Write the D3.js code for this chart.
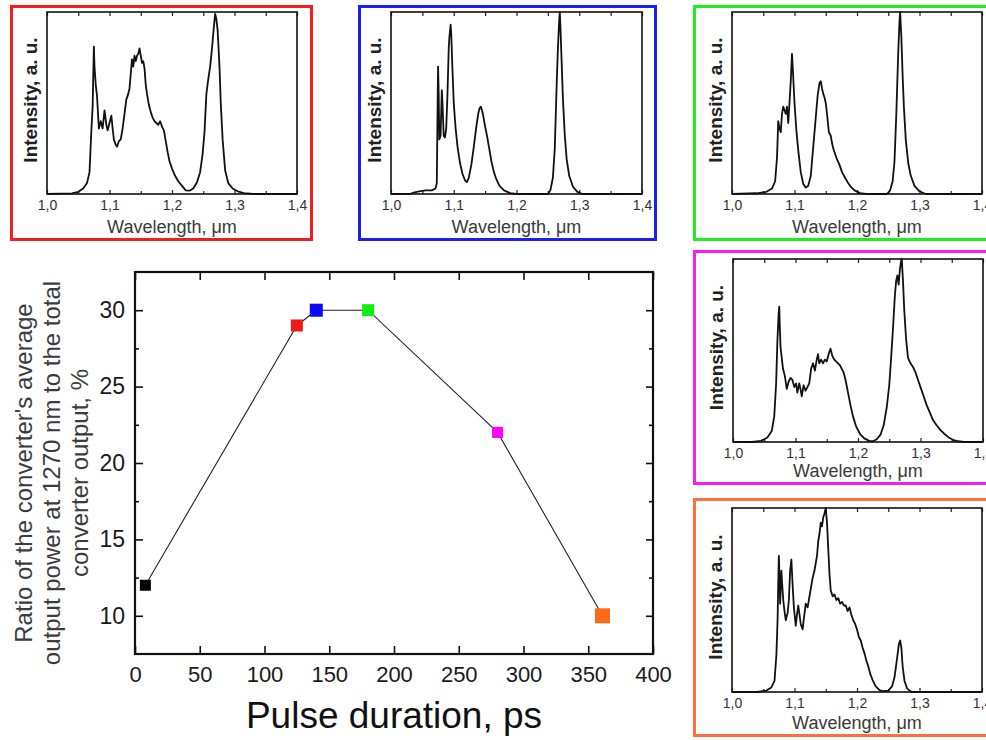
<!DOCTYPE html>
<html>
<head>
<meta charset="utf-8">
<script src="https://cdn.jsdelivr.net/npm/d3@7"></script>
<style>
  html, body { margin: 0; padding: 0; background: #fff; }
  svg { display: block; font-family: "Liberation Sans", Arial, sans-serif; }
</style>
</head>
<body>
<svg id="chart" width="986" height="740"></svg>
<script>
// main chart data
const pulseDuration = [8, 125, 140, 180, 280, 361];
const ratio = [12, 29, 30, 30, 22, 10];
const pulseTicks = [0, 50, 100, 150, 200, 250, 300, 350, 400];
const ratioTicks = [10, 15, 20, 25, 30];
const ratioMinor = [12.5, 17.5, 22.5, 27.5];
const yTitleLines = ["Ratio of the converter's average", "output power at 1270 nm to the total", "converter output, %"];

// spectra (wavelength um, normalised intensity)
const waveTicks = [1.0, 1.1, 1.2, 1.3, 1.4];
const waveMinor = [1.05, 1.15, 1.25, 1.35];

const spectrumRed = [[1.000,0],[1.040,0.003],[1.050,0.012],[1.058,0.03],[1.064,0.06],[1.068,0.12],[1.071,0.35],[1.073,0.48],[1.075,0.81],[1.076,0.70],[1.078,0.60],[1.080,0.54],[1.083,0.36],[1.086,0.40],[1.089,0.36],[1.092,0.46],[1.095,0.38],[1.097,0.35],[1.100,0.39],[1.103,0.43],[1.105,0.36],[1.107,0.30],[1.110,0.27],[1.112,0.26],[1.115,0.29],[1.118,0.30],[1.121,0.36],[1.124,0.44],[1.127,0.52],[1.130,0.55],[1.132,0.58],[1.134,0.66],[1.136,0.74],[1.138,0.70],[1.140,0.76],[1.142,0.73],[1.144,0.76],[1.146,0.77],[1.148,0.80],[1.150,0.76],[1.152,0.72],[1.154,0.73],[1.156,0.69],[1.158,0.60],[1.160,0.55],[1.163,0.49],[1.166,0.45],[1.169,0.42],[1.172,0.40],[1.175,0.39],[1.178,0.38],[1.181,0.40],[1.184,0.37],[1.187,0.35],[1.190,0.29],[1.193,0.23],[1.196,0.18],[1.200,0.14],[1.205,0.10],[1.210,0.07],[1.216,0.045],[1.222,0.02],[1.228,0.018],[1.234,0.03],[1.240,0.065],[1.245,0.12],[1.249,0.22],[1.252,0.34],[1.255,0.55],[1.258,0.63],[1.261,0.70],[1.264,0.80],[1.267,0.92],[1.269,0.99],[1.271,0.96],[1.273,0.90],[1.276,0.70],[1.278,0.50],[1.281,0.30],[1.285,0.13],[1.290,0.06],[1.297,0.03],[1.305,0.015],[1.315,0.005],[1.330,0],[1.400,0]];

const spectrumBlue = [[1.000,0],[1.030,0],[1.036,0.008],[1.045,0.015],[1.055,0.02],[1.065,0.02],[1.071,0.03],[1.073,0.06],[1.074,0.40],[1.075,0.70],[1.076,0.55],[1.077,0.30],[1.079,0.32],[1.081,0.57],[1.082,0.50],[1.084,0.32],[1.086,0.31],[1.088,0.36],[1.090,0.55],[1.092,0.80],[1.093,0.86],[1.095,0.93],[1.096,0.88],[1.098,0.68],[1.100,0.50],[1.103,0.36],[1.106,0.26],[1.110,0.17],[1.114,0.11],[1.118,0.075],[1.121,0.065],[1.124,0.09],[1.128,0.16],[1.132,0.26],[1.136,0.37],[1.139,0.44],[1.141,0.47],[1.143,0.48],[1.145,0.46],[1.147,0.43],[1.150,0.37],[1.153,0.32],[1.156,0.26],[1.160,0.18],[1.164,0.12],[1.168,0.08],[1.173,0.045],[1.180,0.02],[1.190,0.005],[1.200,0],[1.250,0],[1.254,0.02],[1.258,0.09],[1.261,0.25],[1.264,0.60],[1.266,0.80],[1.268,0.95],[1.269,1.0],[1.270,0.92],[1.272,0.72],[1.274,0.52],[1.277,0.32],[1.280,0.19],[1.284,0.10],[1.290,0.04],[1.297,0.012],[1.305,0],[1.400,0]];

const spectrumGreen = [[1.000,0],[1.040,0.004],[1.055,0.012],[1.064,0.03],[1.069,0.07],[1.072,0.20],[1.074,0.40],[1.076,0.36],[1.078,0.34],[1.080,0.44],[1.082,0.48],[1.084,0.46],[1.086,0.44],[1.088,0.48],[1.090,0.39],[1.092,0.50],[1.094,0.62],[1.096,0.77],[1.098,0.64],[1.100,0.50],[1.103,0.35],[1.106,0.24],[1.110,0.12],[1.114,0.055],[1.118,0.035],[1.122,0.045],[1.126,0.10],[1.130,0.26],[1.134,0.42],[1.137,0.54],[1.140,0.61],[1.142,0.62],[1.144,0.58],[1.146,0.55],[1.148,0.53],[1.150,0.50],[1.152,0.44],[1.155,0.34],[1.158,0.32],[1.160,0.28],[1.162,0.25],[1.165,0.22],[1.168,0.19],[1.172,0.16],[1.176,0.12],[1.180,0.095],[1.185,0.065],[1.190,0.04],[1.196,0.02],[1.205,0.005],[1.215,0],[1.248,0],[1.253,0.02],[1.257,0.07],[1.260,0.18],[1.263,0.45],[1.266,0.78],[1.268,0.95],[1.269,1.0],[1.271,0.86],[1.273,0.65],[1.275,0.48],[1.278,0.30],[1.282,0.17],[1.286,0.10],[1.292,0.045],[1.300,0.015],[1.310,0],[1.400,0]];

const spectrumMagenta = [[1.000,0],[1.030,0],[1.045,0.006],[1.055,0.025],[1.062,0.06],[1.066,0.14],[1.069,0.32],[1.071,0.55],[1.073,0.70],[1.074,0.74],[1.075,0.62],[1.076,0.52],[1.078,0.46],[1.080,0.40],[1.083,0.36],[1.086,0.29],[1.089,0.33],[1.092,0.35],[1.095,0.34],[1.098,0.30],[1.101,0.32],[1.103,0.27],[1.106,0.32],[1.108,0.29],[1.110,0.25],[1.113,0.31],[1.116,0.28],[1.119,0.30],[1.122,0.32],[1.125,0.40],[1.128,0.43],[1.131,0.39],[1.134,0.45],[1.136,0.48],[1.138,0.43],[1.141,0.45],[1.144,0.43],[1.147,0.45],[1.150,0.44],[1.153,0.48],[1.156,0.51],[1.159,0.47],[1.162,0.45],[1.165,0.44],[1.168,0.43],[1.171,0.42],[1.174,0.40],[1.177,0.38],[1.180,0.34],[1.184,0.27],[1.188,0.20],[1.192,0.14],[1.197,0.085],[1.203,0.045],[1.210,0.02],[1.218,0.006],[1.224,0.004],[1.230,0.015],[1.236,0.04],[1.241,0.09],[1.246,0.19],[1.250,0.31],[1.253,0.46],[1.256,0.62],[1.259,0.80],[1.261,0.88],[1.263,0.91],[1.265,0.86],[1.267,0.94],[1.269,0.99],[1.270,1.0],[1.272,0.88],[1.274,0.72],[1.277,0.56],[1.280,0.46],[1.284,0.43],[1.288,0.41],[1.292,0.38],[1.296,0.34],[1.300,0.30],[1.305,0.25],[1.310,0.20],[1.315,0.16],[1.320,0.12],[1.326,0.09],[1.332,0.065],[1.338,0.045],[1.345,0.025],[1.352,0.012],[1.360,0.004],[1.370,0],[1.400,0]];

const spectrumOrange = [[1.000,0],[1.040,0],[1.055,0.008],[1.063,0.025],[1.068,0.06],[1.071,0.20],[1.073,0.40],[1.074,0.60],[1.075,0.74],[1.076,0.62],[1.077,0.48],[1.079,0.66],[1.080,0.60],[1.082,0.50],[1.084,0.44],[1.086,0.39],[1.089,0.43],[1.091,0.50],[1.093,0.66],[1.095,0.72],[1.097,0.58],[1.099,0.46],[1.102,0.36],[1.104,0.42],[1.106,0.47],[1.108,0.42],[1.110,0.37],[1.113,0.34],[1.115,0.40],[1.118,0.48],[1.121,0.46],[1.123,0.50],[1.126,0.56],[1.129,0.62],[1.132,0.66],[1.134,0.70],[1.136,0.74],[1.138,0.82],[1.140,0.86],[1.142,0.92],[1.144,0.90],[1.146,0.95],[1.148,0.97],[1.150,1.0],[1.152,0.92],[1.154,0.78],[1.156,0.64],[1.158,0.55],[1.161,0.52],[1.164,0.53],[1.167,0.50],[1.170,0.51],[1.173,0.48],[1.176,0.49],[1.179,0.47],[1.182,0.47],[1.185,0.44],[1.188,0.46],[1.191,0.42],[1.194,0.39],[1.197,0.37],[1.200,0.34],[1.203,0.30],[1.206,0.28],[1.209,0.24],[1.212,0.21],[1.215,0.17],[1.218,0.14],[1.221,0.10],[1.225,0.065],[1.230,0.03],[1.236,0.01],[1.242,0.004],[1.250,0.008],[1.256,0.03],[1.260,0.08],[1.264,0.18],[1.267,0.26],[1.269,0.28],[1.271,0.24],[1.273,0.14],[1.276,0.06],[1.280,0.02],[1.287,0],[1.400,0]];

// styles
const markerColors = ["#000000", "#f01818", "#0a0af0", "#10f010", "#ff00ff", "#ff6a1a"];
const markerSizes = [11, 12, 13, 12, 11, 15];

const svg = d3.select("#chart");
const commaFmt = d3.formatLocale({decimal: ",", thousands: ".", grouping: [3], currency: ["", ""]}).format(".1f");

// ---------- main chart ----------
const m = {left: 135, right: 653, top: 272, bottom: 654};
const x = d3.scaleLinear().domain([0, 400]).range([m.left, m.right]);
const y = d3.scaleLinear().domain([7.5, 32.5]).range([m.bottom, m.top]);

const main = svg.append("g");

main.append("g")
    .attr("transform", `translate(0,${m.bottom})`)
    .call(d3.axisBottom(x).tickValues(pulseTicks).tickSizeInner(-8).tickSizeOuter(0).tickPadding(12))
    .call(g => g.selectAll("text").attr("font-size", 22).attr("fill", "#1a1a1a").attr("font-family", null));

main.append("g")
    .attr("transform", `translate(0,${m.top})`)
    .call(d3.axisTop(x).tickValues(pulseTicks).tickSizeInner(-8).tickSizeOuter(0).tickFormat(""));

main.append("g")
    .attr("transform", `translate(${m.left},0)`)
    .call(d3.axisLeft(y).tickValues(ratioTicks).tickSizeInner(-8).tickSizeOuter(0).tickPadding(10))
    .call(g => g.selectAll("text").attr("font-size", 23).attr("fill", "#1a1a1a").attr("font-family", null));

main.append("g")
    .attr("transform", `translate(${m.left},0)`)
    .call(d3.axisLeft(y).tickValues(ratioMinor).tickSizeInner(-4).tickSizeOuter(0).tickFormat(""));

main.append("g")
    .attr("transform", `translate(${m.right},0)`)
    .call(d3.axisRight(y).tickValues(ratioTicks).tickSizeInner(-7).tickSizeOuter(0).tickFormat(""));

main.append("g")
    .attr("transform", `translate(${m.right},0)`)
    .call(d3.axisRight(y).tickValues(ratioMinor).tickSizeInner(-4).tickSizeOuter(0).tickFormat(""));

main.selectAll(".domain").remove();
main.selectAll(".tick line").attr("stroke", "#111").attr("stroke-width", 1.6);

main.append("rect")
    .attr("x", m.left).attr("y", m.top)
    .attr("width", m.right - m.left).attr("height", m.bottom - m.top)
    .attr("fill", "none").attr("stroke", "#111").attr("stroke-width", 2.2);

const points = pulseDuration.map((p, i) => ({p, r: ratio[i], i}));

main.append("path")
    .datum(points)
    .attr("fill", "none")
    .attr("stroke", "#222")
    .attr("stroke-width", 1.1)
    .attr("d", d3.line().x(d => x(d.p)).y(d => y(d.r)));

main.selectAll("rect.pt")
  .data(points)
  .join("rect")
    .attr("class", "pt")
    .attr("x", d => x(d.p) - markerSizes[d.i] / 2)
    .attr("y", d => y(d.r) - markerSizes[d.i] / 2)
    .attr("width", d => markerSizes[d.i])
    .attr("height", d => markerSizes[d.i])
    .attr("fill", d => markerColors[d.i]);

// axis titles
main.append("text")
    .attr("x", x(200)).attr("y", 728)
    .attr("text-anchor", "middle")
    .attr("font-size", 37)
    .attr("fill", "#111")
    .text("Pulse duration, ps");

const yTitle = main.append("text")
    .attr("transform", "translate(0,473) rotate(-90)")
    .attr("text-anchor", "middle")
    .attr("font-size", 24)
    .attr("fill", "#3c3c3c");
yTitle.selectAll("tspan")
  .data(yTitleLines)
  .join("tspan")
    .attr("x", 0)
    .attr("y", (d, i) => 24 + i * 28)
    .attr("dy", "0.35em")
    .text(d => d);

// ---------- spectrum insets ----------
const insets = [
  {data: spectrumRed,     color: "#f41c1c", frame: [11.5, 6.5, 300, 233],  plot: [47, 12, 297, 194]},
  {data: spectrumBlue,    color: "#1c1cf4", frame: [359.5, 6.5, 296, 233], plot: [391, 12, 642, 194]},
  {data: spectrumGreen,   color: "#1eef1e", frame: [694.5, 6.5, 320, 233], plot: [732, 12, 982, 194]},
  {data: spectrumMagenta, color: "#f81cf8", frame: [694.5, 251.5, 320, 232], plot: [733, 259, 983, 442]},
  {data: spectrumOrange,  color: "#ff6e3c", frame: [694.5, 499.5, 320, 236], plot: [732, 508, 982, 692]}
];

insets.forEach(ins => {
  const [fx, fy, fw, fh] = ins.frame;
  const [l, t, r, b] = ins.plot;
  const g = svg.append("g");

  g.append("rect")
      .attr("x", fx).attr("y", fy).attr("width", fw).attr("height", fh)
      .attr("fill", "#fff").attr("stroke", ins.color).attr("stroke-width", 3);

  const sx = d3.scaleLinear().domain([1.0, 1.4]).range([l, r]);
  const sy = d3.scaleLinear().domain([0, 1]).range([b, t]);

  g.append("g")
      .attr("transform", `translate(0,${b})`)
      .call(d3.axisBottom(sx).tickValues(waveTicks).tickFormat(commaFmt).tickSizeInner(-4).tickSizeOuter(0).tickPadding(6))
      .call(a => a.selectAll("text").attr("font-size", 14).attr("fill", "#333").attr("font-family", null));
  g.append("g")
      .attr("transform", `translate(0,${b})`)
      .call(d3.axisBottom(sx).tickValues(waveMinor).tickFormat("").tickSizeInner(-3).tickSizeOuter(0));
  g.append("g")
      .attr("transform", `translate(0,${t})`)
      .call(d3.axisTop(sx).tickValues(waveTicks.concat(waveMinor)).tickFormat("").tickSizeInner(-4).tickSizeOuter(0));
  g.selectAll(".domain").remove();
  g.selectAll(".tick line").attr("stroke", "#222").attr("stroke-width", 1.2);

  g.append("path")
      .datum(ins.data)
      .attr("fill", "none")
      .attr("stroke", "#111")
      .attr("stroke-width", 1.8)
      .attr("stroke-linejoin", "round")
      .attr("d", d3.line().x(d => sx(d[0])).y(d => sy(d[1])));

  g.append("rect")
      .attr("x", l).attr("y", t).attr("width", r - l).attr("height", b - t)
      .attr("fill", "none").attr("stroke", "#111").attr("stroke-width", 1.6);

  g.append("text")
      .attr("x", (l + r) / 2).attr("y", fy + fh + 1.5 - 8)
      .attr("text-anchor", "middle")
      .attr("font-size", 18)
      .attr("fill", "#3a3a3a")
      .text("Wavelength, \u03bcm");

  g.append("text")
      .attr("transform", `translate(${l - 17},${(t + b) / 2 - 3}) rotate(-90)`)
      .attr("text-anchor", "middle")
      .attr("dy", "0.35em")
      .attr("font-size", 19)
      .attr("font-weight", "bold")
      .attr("fill", "#222")
      .text("Intensity, a. u.");
});
</script>
</body>
</html>
